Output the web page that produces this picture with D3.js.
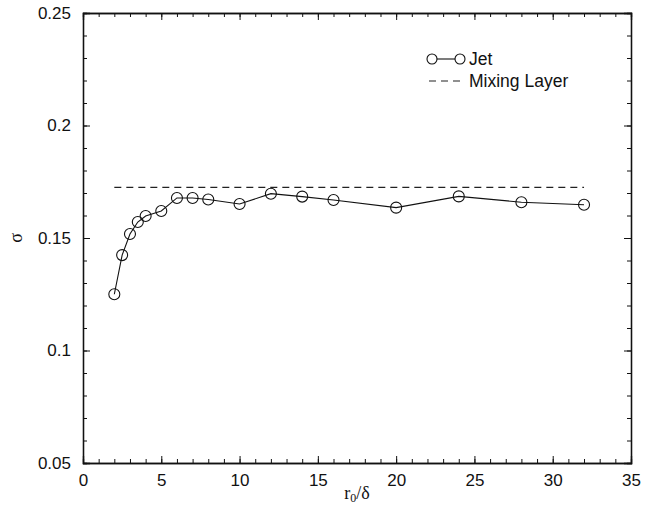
<!DOCTYPE html>
<html lang="en">
<head>
  <meta charset="UTF-8">
  <title>sigma vs r0/delta</title>
  <style>
    body { margin: 0; background: #fff; }
    svg text { font-family: "Liberation Sans", Arial, Helvetica, sans-serif; fill: #111; }
  </style>
</head>
<body>
  <div class="container"></div>
  <script src="https://d3js.org/d3.v7.min.js"></script>
  <script>
    // data
    let rRatio = [2, 2.5, 3, 3.5, 4, 5, 6, 7, 8, 10, 12, 14, 16, 20, 24, 28, 32]
    let sigmaJet = [0.125, 0.1424, 0.1518, 0.1571, 0.1598, 0.162, 0.1678, 0.1678, 0.1671, 0.1651,
      0.1697, 0.1684, 0.1669, 0.1635, 0.1685, 0.1659, 0.1648]
    let mixX = [2, 32]
    let mixSigma = 0.1725
    let xTicks = [0, 5, 10, 15, 20, 25, 30, 35]
    let yTicks = [0.05, 0.1, 0.15, 0.2, 0.25]

    let W = 650, H = 508
    let pLeft = 83, pTop = 13, pRight = 631, pBottom = 463

    let svg = d3.select('.container')
      .append('svg')
      .attr('width', W)
      .attr('height', H)
      .style('display', 'block')

    let x = d3.scaleLinear().domain([0, 35]).range([pLeft, pRight])
    let y = d3.scaleLinear().domain([0.05, 0.25]).range([pBottom, pTop])

    let minorX = d3.range(0, 35.01, 1)
    let minorY = d3.range(0.05, 0.2501, 0.01)

    // axes, ticks pointing inwards
    let gx = svg.append('g').attr('transform', `translate(0,${pBottom})`)
    gx.call(d3.axisBottom(x).tickValues(minorX).tickSize(-4).tickFormat(''))
    gx.call(g => g.append('g').call(d3.axisBottom(x).tickValues(xTicks).tickSize(-7).tickFormat(d3.format('d'))))
    let gxTop = svg.append('g').attr('transform', `translate(0,${pTop})`)
    gxTop.call(d3.axisTop(x).tickValues(minorX).tickSize(-4).tickFormat(''))
    gxTop.call(g => g.append('g').call(d3.axisTop(x).tickValues(xTicks).tickSize(-7).tickFormat('')))

    let gy = svg.append('g').attr('transform', `translate(${pLeft},0)`)
    gy.call(d3.axisLeft(y).tickValues(minorY).tickSize(-4).tickFormat(''))
    gy.call(g => g.append('g').call(d3.axisLeft(y).tickValues(yTicks).tickSize(-7).tickFormat(d => String(+d.toFixed(2)))))
    let gyR = svg.append('g').attr('transform', `translate(${pRight},0)`)
    gyR.call(d3.axisRight(y).tickValues(minorY).tickSize(-4).tickFormat(''))
    gyR.call(g => g.append('g').call(d3.axisRight(y).tickValues(yTicks).tickSize(-7).tickFormat('')))

    svg.selectAll('.domain').attr('stroke', '#111').attr('stroke-width', 1.3)
    svg.selectAll('.tick line').attr('stroke', '#111')
    svg.selectAll('.tick text').attr('font-size', 17).style('font-family', '"Liberation Sans", Arial, sans-serif').attr('fill', '#111')
    gx.selectAll('.tick text').attr('dy', '1.0em').attr('y', 6)
    gy.selectAll('.tick text').attr('x', -12)

    // mixing layer dashed line
    svg.append('line')
      .attr('x1', x(mixX[0])).attr('x2', x(mixX[1]))
      .attr('y1', y(mixSigma)).attr('y2', y(mixSigma))
      .attr('stroke', '#222').attr('stroke-width', 1.1)
      .attr('stroke-dasharray', '7,5')

    // jet line and circles
    let pts = rRatio.map((r, i) => [r, sigmaJet[i]])
    svg.append('path')
      .datum(pts)
      .attr('fill', 'none')
      .attr('stroke', '#111')
      .attr('stroke-width', 1.1)
      .attr('d', d3.line().x(d => x(d[0])).y(d => y(d[1])))

    svg.selectAll('.pt')
      .data(pts)
      .enter()
      .append('circle')
      .attr('class', 'pt')
      .attr('cx', d => x(d[0]))
      .attr('cy', d => y(d[1]))
      .attr('r', 5.5)
      .attr('fill', 'none')
      .attr('stroke', '#111')
      .attr('stroke-width', 1.1)

    // legend
    let lg = svg.append('g')
    lg.append('line').attr('x1', 432).attr('x2', 460).attr('y1', 59).attr('y2', 59)
      .attr('stroke', '#111').attr('stroke-width', 1.1)
    lg.selectAll('circle').data([432, 460]).enter().append('circle')
      .attr('cx', d => d).attr('cy', 59).attr('r', 5)
      .attr('fill', '#fff').attr('stroke', '#111').attr('stroke-width', 1.1)
    lg.append('text').attr('x', 469).attr('y', 65).attr('font-size', 17.5).text('Jet')
    lg.append('line').attr('x1', 429).attr('x2', 462).attr('y1', 81).attr('y2', 81)
      .attr('stroke', '#222').attr('stroke-width', 1.1).attr('stroke-dasharray', '7,5')
    lg.append('text').attr('x', 469).attr('y', 87).attr('font-size', 17.5).text('Mixing Layer')

    // axis titles
    svg.append('text')
      .attr('transform', `translate(22,${(pTop + pBottom) / 2}) rotate(-90)`)
      .attr('text-anchor', 'middle')
      .attr('font-size', 18)
      .style('font-family', '"Liberation Serif", "Times New Roman", serif')
      .text('σ')

    let xt = svg.append('text')
      .attr('x', (pLeft + pRight) / 2)
      .attr('y', 499)
      .attr('text-anchor', 'middle')
      .attr('font-size', 18)
      .style('font-family', '"Liberation Serif", "Times New Roman", serif')
    xt.append('tspan').text('r')
    xt.append('tspan').attr('font-size', 12).attr('dy', 3).text('0')
    xt.append('tspan').attr('dy', -3).text('/δ')
  </script>
</body>
</html>
